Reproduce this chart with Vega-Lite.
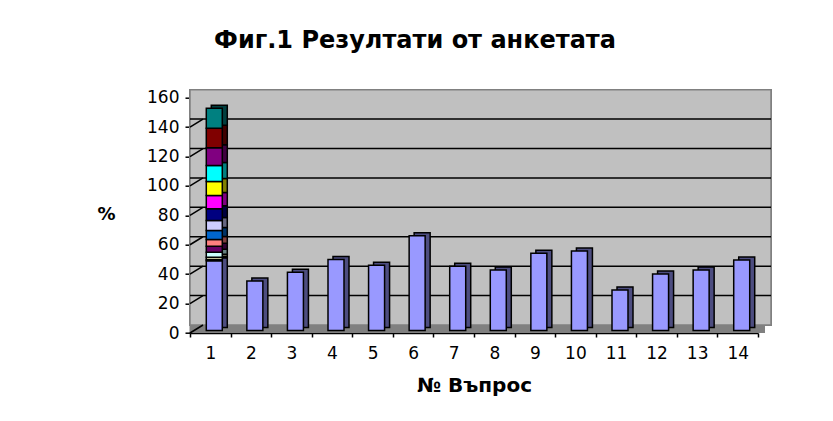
{
  "$schema": "https://vega.github.io/schema/vega-lite/v6.json",
  "width": 568,
  "height": 235.3,
  "autosize": {"type": "none"},
  "padding": {"left": 190, "top": 97.7, "right": 75, "bottom": 88},
  "background": "white",
  "config": {
    "view": {"stroke": null},
    "font": "DejaVu Sans",
    "axisY": {"tickCount": 10, "labelOverlap": false, "grid": false, "domainColor": "black", "domainWidth": 1.5, "tickColor": "black", "tickWidth": 1.5, "tickSize": 5,
      "labelFontSize": 17, "labelColor": "black", "labelPadding": 6, "labelFont": "DejaVu Sans",
      "titleAngle": 0, "titleX": -84, "titleY": 117, "titleAlign": "center", "titleBaseline": "middle",
      "titleFontSize": 18, "titleFontWeight": "bold", "titleColor": "black", "titleFont": "DejaVu Sans"},
    "axisX": {"labelAngle": 0, "tickBand": "extent", "labelOverlap": false, "grid": false, "domainColor": "black", "domainWidth": 1.5, "tickColor": "black", "tickWidth": 1.5, "tickSize": 4,
      "labelFontSize": 17, "labelColor": "black", "labelPadding": 8, "labelFont": "DejaVu Sans",
      "titleFontSize": 20, "titleFontWeight": "bold", "titleColor": "black", "titlePadding": 14, "titleFont": "DejaVu Sans"}
  },
  "title": {"text": "Фиг.1 Резултати от анкетата", "fontSize": 24, "fontWeight": "bold", "font": "DejaVu Sans", "color": "black", "anchor": "middle", "dx": -59, "offset": 36},
  "datasets": {
    "bars": [
      {"q": 1, "s": 1, "v": 47.5}, {"q": 1, "s": 2, "v": 0.8}, {"q": 1, "s": 3, "v": 1.5},
      {"q": 1, "s": 4, "v": 3.4}, {"q": 1, "s": 5, "v": 4.1}, {"q": 1, "s": 6, "v": 4.6},
      {"q": 1, "s": 7, "v": 6.1}, {"q": 1, "s": 8, "v": 6.8}, {"q": 1, "s": 9, "v": 8.0},
      {"q": 1, "s": 10, "v": 9.0}, {"q": 1, "s": 11, "v": 9.5}, {"q": 1, "s": 12, "v": 10.9},
      {"q": 1, "s": 13, "v": 12.0}, {"q": 1, "s": 14, "v": 13.3}, {"q": 1, "s": 15, "v": 13.6},
      {"q": 2, "s": 1, "v": 33.7}, {"q": 3, "s": 1, "v": 39.6}, {"q": 4, "s": 1, "v": 48.2},
      {"q": 5, "s": 1, "v": 44.4}, {"q": 6, "s": 1, "v": 64.5}, {"q": 7, "s": 1, "v": 43.7},
      {"q": 8, "s": 1, "v": 41.2}, {"q": 9, "s": 1, "v": 52.5}, {"q": 10, "s": 1, "v": 54.1},
      {"q": 11, "s": 1, "v": 27.6}, {"q": 12, "s": 1, "v": 38.4}, {"q": 13, "s": 1, "v": 41.2},
      {"q": 14, "s": 1, "v": 48.0}
    ],
    "grid": [{"g": 0}, {"g": 20}, {"g": 40}, {"g": 60}, {"g": 80}, {"g": 100}, {"g": 120}, {"g": 140}, {"g": 160}]
  },
  "layer": [
    {
      "data": {"name": "grid"},
      "mark": {"type": "rect", "color": "#C0C0C0"},
      "encoding": {
        "y": {"datum": 0, "type": "quantitative", "title": "%", "scale": {"domain": [0, 160], "nice": false},
          "axis": {"values": [0,20,40,60,80,100,120,140,160]}},
        "y2": {"datum": 160}
      }
    },
    {
      "data": {"name": "grid"},
      "mark": {"type": "rect", "color": "#C0C0C0", "stroke": "#808080", "strokeWidth": 1.5, "xOffset": 13, "x2Offset": 13, "yOffset": -8, "y2Offset": -8},
      "encoding": {
        "y": {"datum": 0, "type": "quantitative", "title": "%", "axis": {"values": [0,20,40,60,80,100,120,140,160]}},
        "y2": {"datum": 160}
      }
    },
    {
      "data": {"name": "grid"},
      "transform": [{"filter": "datum.g > 0 && datum.g < 160"}],
      "mark": {"type": "rule", "color": "black", "strokeWidth": 1.5, "xOffset": 13, "x2Offset": 13, "yOffset": -8},
      "encoding": {
        "y": {"field": "g", "type": "quantitative", "title": "%", "axis": {"values": [0,20,40,60,80,100,120,140,160]}}
      }
    },
    {
      "data": {"name": "grid"},
      "mark": {"type": "rect", "color": "#808080", "xOffset": 6.5, "x2Offset": 6.5},
      "encoding": {
        "y": {"datum": 0, "type": "quantitative", "title": "%", "axis": {"values": [0,20,40,60,80,100,120,140,160]}},
        "y2": {"datum": 5.44}
      }
    },
    {
      "data": {"name": "bars"},
      "mark": {"type": "bar", "width": 16, "xOffset": 9, "yOffset": -5.5, "y2Offset": -5.5, "stroke": "black", "strokeWidth": 1.5},
      "encoding": {
        "x": {"field": "q", "type": "ordinal", "title": "№ Въпрос", "scale": {"paddingInner": 0, "paddingOuter": 0}},
        "y": {"field": "v", "type": "quantitative", "stack": "zero", "title": "%", "axis": {"values": [0,20,40,60,80,100,120,140,160]}},
        "order": {"field": "s", "type": "quantitative", "sort": "ascending"},
        "color": {"field": "s", "type": "nominal", "legend": null,
          "scale": {"domain": [1,2,3,4,5,6,7,8,9,10,11,12,13,14,15],
            "range": ["#4D4D80","#4D1A33","#808066","#668080","#330033","#804040","#003366","#666680","#000040","#800080","#808000","#008080","#400040","#400000","#004040"]}}
      }
    },
    {
      "data": {"name": "bars"},
      "mark": {"type": "bar", "width": 16, "xOffset": 4, "yOffset": -2.5, "y2Offset": -2.5, "stroke": "black", "strokeWidth": 1.5},
      "encoding": {
        "x": {"field": "q", "type": "ordinal", "title": "№ Въпрос"},
        "y": {"field": "v", "type": "quantitative", "stack": "zero", "title": "%", "axis": {"values": [0,20,40,60,80,100,120,140,160]}},
        "order": {"field": "s", "type": "quantitative", "sort": "ascending"},
        "color": {"field": "s", "type": "nominal", "legend": null,
          "scale": {"domain": [1,2,3,4,5,6,7,8,9,10,11,12,13,14,15],
            "range": ["#9999FF","#993366","#FFFFCC","#CCFFFF","#660066","#FF8080","#0066CC","#CCCCFF","#000080","#FF00FF","#FFFF00","#00FFFF","#800080","#800000","#008080"]}}
      }
    },
    {
      "data": {"name": "grid"},
      "transform": [{"filter": "datum.g < 160"}],
      "mark": {"type": "rule", "color": "black", "strokeWidth": 1.5, "xOffset": -20.3, "x2Offset": -7.3, "y2Offset": -8},
      "encoding": {
        "x": {"datum": 1, "type": "ordinal", "title": "№ Въпрос"},
        "x2": {"datum": 1},
        "y": {"field": "g", "type": "quantitative", "title": "%", "axis": {"values": [0,20,40,60,80,100,120,140,160]}},
        "y2": {"field": "g"}
      }
    }
  ],
  "resolve": {"scale": {"color": "independent"}}
}
